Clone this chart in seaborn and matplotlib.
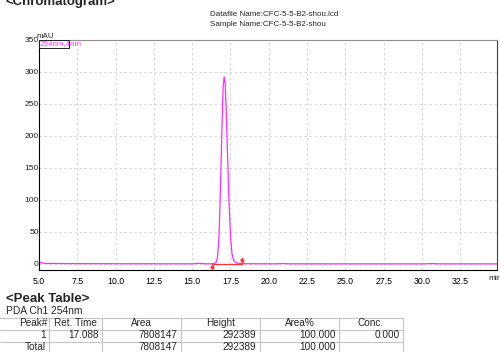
import matplotlib
matplotlib.use("Agg")
import matplotlib.pyplot as plt
from matplotlib.lines import Line2D
from matplotlib.patches import Rectangle
from matplotlib.ticker import MultipleLocator, FixedLocator
import seaborn as sns
import pandas as pd

# ---- data ----
ret_time_min = [5.0, 5.04, 5.1, 5.25, 5.6, 7.0, 10.0, 13.0, 15.1, 15.4, 15.7, 16.0,
                16.4, 16.55, 16.65, 16.75, 16.85, 16.95, 17.02, 17.088, 17.15, 17.22,
                17.3, 17.4, 17.5, 17.6, 17.7, 17.85, 18.1, 18.5, 20.5, 20.9, 21.3,
                25.0, 30.0, 30.6, 31.2, 35.0]
signal_mau = [2.0, 3.5, 2.0, 1.2, 0.9, 0.6, 0.4, 0.3, 0.3, 1.2, 0.5, 0.3,
              0.4, 2.0, 10.0, 42.0, 120.0, 218.0, 276.0, 292.4, 282.0, 243.0,
              178.0, 100.0, 45.0, 16.0, 6.0, 2.0, 0.8, 0.4, 0.3, 0.8, 0.3,
              0.2, 0.2, 0.6, 0.2, 0.2]
peak_start = 16.33
peak_end = 18.28

x_ticks = [5.0, 7.5, 10.0, 12.5, 15.0, 17.5, 20.0, 22.5, 25.0, 27.5, 30.0, 32.5]
y_ticks = [0, 50, 100, 150, 200, 250, 300, 350]

datafile_name = "Datafile Name:CFC-5-5-B2-shou.lcd"
sample_name = "Sample Name:CFC-5-5-B2-shou"
channel_label = "254nm,4nm"

table_header = ["Peak#", "Ret. Time", "Area", "Height", "Area%", "Conc."]
table_row1 = ["1", "17.088", "7808147", "292389", "100.000", "0.000"]
table_total = ["Total", "", "7808147", "292389", "100.000", ""]

# ---- figure ----
sns.set_style("white")
plt.rcParams['font.family'] = ['Liberation Sans', 'DejaVu Sans']

W, H = 500, 352
fig = plt.figure(figsize=(W / 100, H / 100), dpi=100)

def fx(x):
    return x / W

def fy(y):
    return 1 - y / H

ax_l, ax_r, ax_t, ax_b = 39, 497, 40, 270
ax = fig.add_axes([fx(ax_l), fy(ax_b), (ax_r - ax_l) / W, (ax_b - ax_t) / H])

df = pd.DataFrame({"time": ret_time_min, "mAU": signal_mau})
line_color = "#ff2bff"
sns.lineplot(data=df, x="time", y="mAU", ax=ax, color=line_color, linewidth=0.9)

red = "#ff3030"
ax.plot([peak_start, peak_end], [0, 0], color=red, lw=0.9, zorder=3)
ax.annotate("", xy=(peak_start, 0.5), xytext=(peak_start, -9),
            arrowprops=dict(arrowstyle="-|>", color=red, lw=0.8, mutation_scale=6,
                            shrinkA=0, shrinkB=0))
ax.annotate("", xy=(peak_end, -0.5), xytext=(peak_end, 9.5),
            arrowprops=dict(arrowstyle="-|>", color=red, lw=0.8, mutation_scale=6,
                            shrinkA=0, shrinkB=0))

ax.set_xlim(5.0, 34.9)
ax.set_ylim(-9.4, 350)
ax.set_xlabel("")
ax.set_ylabel("")

ax.xaxis.set_major_locator(FixedLocator(x_ticks))
ax.xaxis.set_minor_locator(MultipleLocator(0.5))
ax.yaxis.set_major_locator(FixedLocator(y_ticks))
ax.yaxis.set_minor_locator(MultipleLocator(10))
ax.set_xticklabels([f"{v:.1f}" for v in x_ticks])
ax.set_yticklabels([str(v) for v in y_ticks])

ax.tick_params(axis="x", which="major", direction="out", length=3, width=0.7,
               labelsize=6.3, pad=2.2, colors="black")
ax.tick_params(axis="x", which="minor", direction="out", length=2, width=0.6)
ax.tick_params(axis="y", which="major", direction="out", length=2, width=0.7,
               labelsize=6.0, pad=-1.8, colors="black")
ax.tick_params(axis="y", which="minor", direction="out", length=1.5, width=0.6)
for lbl in ax.get_yticklabels():
    lbl.set_color("#222222")

ax.grid(True, which="major", color="#d0d0d0", linestyle=(0, (3, 3)), linewidth=0.6)
ax.set_axisbelow(True)

for side, col, lw in [("left", "#000000", 0.8), ("bottom", "#000000", 0.8),
                      ("top", "#909090", 0.8), ("right", "#404040", 0.8)]:
    ax.spines[side].set_visible(True)
    ax.spines[side].set_color(col)
    ax.spines[side].set_linewidth(lw)

# unit labels
fig.text(fx(37), fy(36), "mAU", fontsize=5.8, va="center", ha="left")
fig.text(fx(488), fy(279), "min", fontsize=6.0, va="center", ha="left")

# channel label box
fig.patches.append(Rectangle((fx(39), fy(48)), (69 - 39) / W, 8 / H,
                             transform=fig.transFigure, fill=False,
                             edgecolor="#222222", linewidth=0.7))
fig.text(fx(40), fy(44), channel_label, fontsize=5.8, color="#ff33ff",
         va="center", ha="left")

# titles and header texts
fig.text(fx(6), fy(5), "<Chromatogram>", fontsize=9.5, fontweight="bold",
         va="baseline", ha="left")
fig.text(fx(210), fy(15), datafile_name, fontsize=5.8, va="center", ha="left")
fig.text(fx(210), fy(24), sample_name, fontsize=5.8, va="center", ha="left")

fig.text(fx(6), fy(302), "<Peak Table>", fontsize=9.5, fontweight="bold",
         va="baseline", ha="left")
fig.text(fx(6), fy(314), "PDA Ch1 254nm", fontsize=7.4, va="baseline", ha="left")

# peak table
col_edges = [0, 49, 102, 181, 260, 339, 403]
row_edges = [318, 330, 342, 354]
grid_col = "#c4c4c4"
for y in row_edges:
    fig.lines.append(Line2D([fx(0), fx(403)], [fy(y), fy(y)],
                            transform=fig.transFigure, color=grid_col, lw=0.8))
for x in col_edges[1:]:
    fig.lines.append(Line2D([fx(x), fx(x)], [fy(318), fy(354)],
                            transform=fig.transFigure, color=grid_col, lw=0.8))

fs_tab = 7.2
for i, txt in enumerate(table_header):
    if i == 0:
        fig.text(fx(col_edges[1] - 1.5), fy(323.5), txt, fontsize=fs_tab,
                 ha="right", va="center")
    else:
        cx = (col_edges[i] + col_edges[i + 1]) / 2
        fig.text(fx(cx), fy(323.5), txt, fontsize=fs_tab, ha="center", va="center")
for row, yc in [(table_row1, 335.5), (table_total, 347.5)]:
    for i, txt in enumerate(row):
        if txt:
            fig.text(fx(col_edges[i + 1] - 3.5), fy(yc), txt, fontsize=fs_tab,
                     ha="right", va="center")

fig.savefig("out.png", dpi=100)
